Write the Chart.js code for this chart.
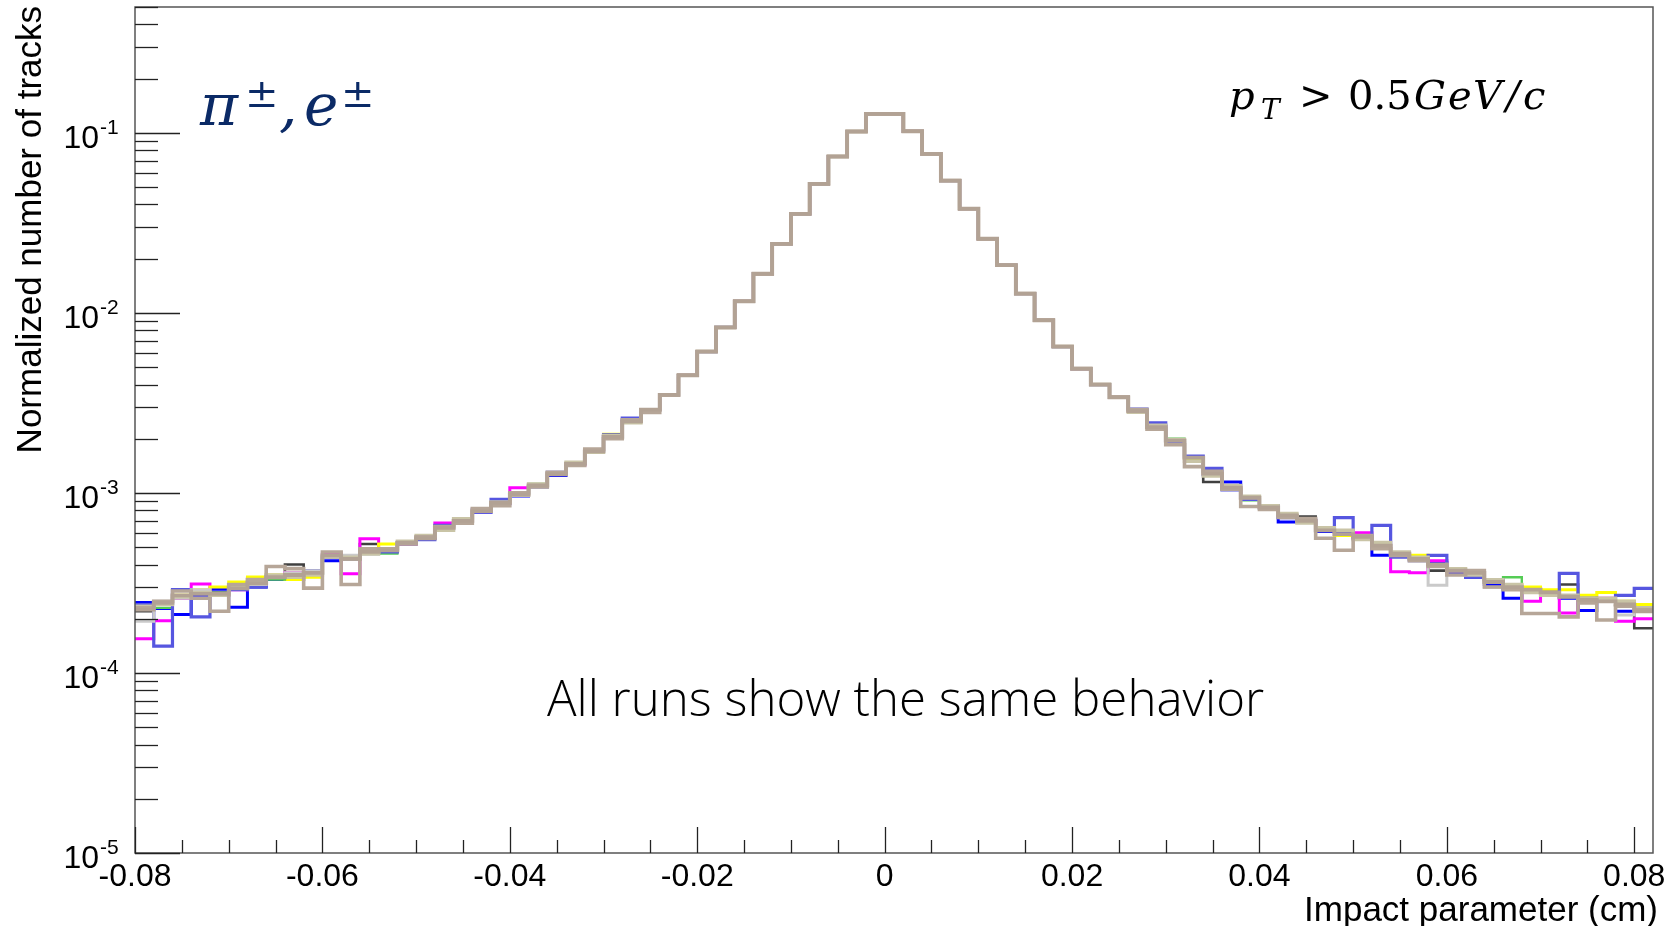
<!DOCTYPE html>
<html>
<head>
<meta charset="utf-8">
<title>Impact parameter - all runs</title>
<script src="https://cdn.jsdelivr.net/npm/chart.js@4.4.0/dist/chart.umd.min.js"></script>
<style>
  html, body { margin: 0; padding: 0; background: #fff; }
  #wrap { width: 1680px; height: 926px; }
</style>
</head>
<body>
<div id="wrap"><canvas id="chart" width="1680" height="926"></canvas></div>
<script>
// binning of the histograms (81 bins of 0.002 cm starting at -0.08)
const binLow = -0.08;
const binWidth = 0.002;
const nBins = 81;
const edges = Array.from({ length: nBins + 1 }, (_, i) => +(binLow + i * binWidth).toFixed(3));

// axis ticks / labels
const xTickValues = [-0.08, -0.06, -0.04, -0.02, 0, 0.02, 0.04, 0.06, 0.08];
const xTickLabels = ['-0.08', '-0.06', '-0.04', '-0.02', '0', '0.02', '0.04', '0.06', '0.08'];
const yDecades = [-5, -4, -3, -2, -1];

// central bins (-0.024 .. 0.026), identical for every run
const core = [0.0035, 0.0045, 0.0061, 0.0083, 0.0116, 0.0165, 0.0242, 0.0355, 0.0521, 0.0739,
  0.1017, 0.1274, 0.1274, 0.102, 0.0764, 0.0543, 0.0379, 0.0258, 0.0184, 0.0128,
  0.0091, 0.0065, 0.0049, 0.004, 0.0034];

// tails of each run: left = bins -0.08..-0.024, right = bins 0.026..0.082
const tanL = [0.000225, 0.000245, 0.00027, 0.000275, 0.000275, 0.000295, 0.000315, 0.00034, 0.00035, 0.00036,
  0.00045, 0.00043, 0.00047, 0.00048, 0.00053, 0.00056, 0.00064, 0.0007, 0.00079, 0.00088,
  0.00098, 0.0011, 0.00127, 0.00145, 0.0017, 0.00205, 0.0025, 0.0029];
const tanR = [0.00285, 0.00232, 0.00195, 0.00157, 0.00128, 0.00107, 0.00094, 0.00083, 0.00075, 0.0007,
  0.00062, 0.00059, 0.00057, 0.00051, 0.00046, 0.00043, 0.0004, 0.00037, 0.00036, 0.00032,
  0.0003, 0.00029, 0.00028, 0.000265, 0.000255, 0.00025, 0.00024, 0.00022];

const tan2L = [0.00023, 0.00025, 0.000285, 0.00026, 0.00022, 0.00031, 0.00033, 0.00039, 0.00038, 0.000296,
  0.00047, 0.00031, 0.00049, 0.00049, 0.00052, 0.00057, 0.00065, 0.00068, 0.00082, 0.00085,
  0.001, 0.00108, 0.0013, 0.00142, 0.00175, 0.002, 0.00255, 0.0028];
const tan2R = [0.0029, 0.00226, 0.00185, 0.0014, 0.00132, 0.00105, 0.00084, 0.00081, 0.00073, 0.00072,
  0.00056, 0.00048, 0.00058, 0.00049, 0.00045, 0.00042, 0.00039, 0.00035, 0.00037, 0.0003,
  0.00029, 0.000214, 0.000214, 0.000205, 0.000245, 0.000197, 0.000235, 0.000225];

const khakiL = [0.000235, 0.00024, 0.000265, 0.00028, 0.00027, 0.0003, 0.00032, 0.00035, 0.00034, 0.00035,
  0.00044, 0.00044, 0.00046, 0.00049, 0.00054, 0.00058, 0.00062, 0.00072, 0.0008, 0.00089,
  0.00097, 0.00112, 0.00128, 0.00148, 0.00168, 0.00208, 0.00245, 0.0029];
const khakiR = [0.0028, 0.00238, 0.00198, 0.0015, 0.00124, 0.0011, 0.00096, 0.00085, 0.00077, 0.00068,
  0.00064, 0.00062, 0.00055, 0.00053, 0.00047, 0.00044, 0.0004, 0.00038, 0.00035, 0.00033,
  0.00031, 0.00028, 0.00027, 0.00027, 0.00026, 0.00026, 0.00025, 0.00023];

const slateL = [0.00024, 0.000141, 0.00029, 0.000205, 0.00027, 0.00029, 0.0003, 0.00034, 0.00034, 0.00037,
  0.00044, 0.00043, 0.00048, 0.00047, 0.00053, 0.00055, 0.00066, 0.00071, 0.00081, 0.00092,
  0.001, 0.00108, 0.0013, 0.00146, 0.00172, 0.0021, 0.0026, 0.0029];
const slateR = [0.00292, 0.00245, 0.0019, 0.0016, 0.00137, 0.00104, 0.00092, 0.00085, 0.00073, 0.0007,
  0.00064, 0.00073, 0.00056, 0.00066, 0.00044, 0.00042, 0.00045, 0.00037, 0.00034, 0.00033,
  0.0003, 0.00028, 0.00028, 0.000357, 0.00026, 0.00025, 0.00027, 0.000295];

const blueL = [0.000246, 0.000228, 0.000211, 0.00027, 0.000292, 0.000232, 0.0003, 0.00033, 0.00033, 0.00037,
  0.00042, 0.00044, 0.00046, 0.00049, 0.00052, 0.00056, 0.00063, 0.00069, 0.00078, 0.00087,
  0.00096, 0.0011, 0.00125, 0.00145, 0.00168, 0.00204, 0.0025, 0.0029];
const blueR = [0.00288, 0.00235, 0.00196, 0.00156, 0.00126, 0.00115, 0.00093, 0.00082, 0.00069, 0.00071,
  0.00061, 0.0006, 0.00056, 0.00045, 0.00046, 0.00043, 0.00041, 0.00036, 0.00034, 0.00031,
  0.00026, 0.00029, 0.00028, 0.00026, 0.000222, 0.00025, 0.00022, 0.00023];

const magentaL = [0.000155, 0.000195, 0.00026, 0.000312, 0.00028, 0.00029, 0.00031, 0.00034, 0.00036, 0.00036,
  0.00046, 0.000356, 0.000557, 0.00048, 0.00052, 0.00056, 0.00068, 0.0007, 0.0008, 0.00088,
  0.00107, 0.0011, 0.00128, 0.00143, 0.0017, 0.00205, 0.0025, 0.0029];
const magentaR = [0.00285, 0.00232, 0.00195, 0.00158, 0.00128, 0.00107, 0.00094, 0.00083, 0.00075, 0.0007,
  0.00063, 0.00058, 0.0006, 0.00051, 0.000365, 0.00036, 0.00042, 0.00037, 0.00036, 0.00033,
  0.000305, 0.00025, 0.000285, 0.000215, 0.00025, 0.00026, 0.000194, 0.0002];

const yellowL = [0.00023, 0.00024, 0.00027, 0.00029, 0.0003, 0.00032, 0.000341, 0.00035, 0.00033, 0.00034,
  0.00044, 0.00043, 0.00046, 0.00052, 0.00053, 0.00056, 0.00065, 0.0007, 0.00079, 0.00089,
  0.00098, 0.0011, 0.0013, 0.00146, 0.0017, 0.00212, 0.0025, 0.0029];
const yellowR = [0.00285, 0.0023, 0.00196, 0.00155, 0.00128, 0.00107, 0.00094, 0.00083, 0.00075, 0.0007,
  0.00063, 0.00058, 0.00057, 0.00051, 0.00046, 0.00045, 0.0004, 0.00037, 0.00036, 0.00032,
  0.00031, 0.0003, 0.00029, 0.00029, 0.00027, 0.00028, 0.00025, 0.00024];

const greenL = [0.000225, 0.00023, 0.00027, 0.00028, 0.00028, 0.0003, 0.00032, 0.00033, 0.00035, 0.00036,
  0.00044, 0.00044, 0.00047, 0.00046, 0.00052, 0.00057, 0.00064, 0.00071, 0.0008, 0.00088,
  0.00098, 0.00112, 0.00127, 0.00145, 0.0017, 0.00205, 0.0025, 0.0029];
const greenR = [0.00285, 0.00232, 0.002, 0.00156, 0.00128, 0.00107, 0.00091, 0.00083, 0.00075, 0.0007,
  0.00062, 0.00059, 0.00057, 0.00051, 0.00046, 0.00043, 0.0004, 0.00037, 0.00036, 0.00032,
  0.00034, 0.00029, 0.00028, 0.000265, 0.000255, 0.00025, 0.00024, 0.00023];

const darkL = [0.00022, 0.00024, 0.00026, 0.00028, 0.00028, 0.00029, 0.00031, 0.00034, 0.0004, 0.00037,
  0.00044, 0.00044, 0.00052, 0.00047, 0.00053, 0.00056, 0.00064, 0.00071, 0.00079, 0.00089,
  0.00098, 0.0011, 0.00127, 0.00145, 0.0017, 0.00205, 0.0025, 0.0029];
const darkR = [0.00285, 0.00232, 0.00195, 0.00157, 0.00115, 0.00107, 0.00094, 0.00083, 0.00075, 0.00074,
  0.00062, 0.00059, 0.00057, 0.00051, 0.00046, 0.00043, 0.00037, 0.00037, 0.00036, 0.0003,
  0.0003, 0.00029, 0.00028, 0.00031, 0.00027, 0.00025, 0.00024, 0.000177];

const greyL = [0.000194, 0.00025, 0.00026, 0.00029, 0.00027, 0.0003, 0.00031, 0.00034, 0.00036, 0.00037,
  0.00044, 0.00045, 0.00047, 0.00049, 0.00053, 0.00057, 0.00064, 0.0007, 0.0008, 0.00088,
  0.00098, 0.0011, 0.00127, 0.00145, 0.0017, 0.00205, 0.0025, 0.0029];
const greyR = [0.00285, 0.00232, 0.00195, 0.00157, 0.00128, 0.00107, 0.00094, 0.00083, 0.00075, 0.0007,
  0.00062, 0.00059, 0.00057, 0.00051, 0.00046, 0.00043, 0.000307, 0.00037, 0.00036, 0.00032,
  0.0003, 0.00029, 0.00028, 0.000265, 0.000255, 0.00025, 0.00021, 0.00023];

// runs, first one is drawn on top (like the last one drawn in ROOT)
const runs = [
  { left: tanL, right: tanR, color: '#b2a294', width: 3.8 },
  { left: tan2L, right: tan2R, color: '#b6a698', width: 3.6 },
  { left: khakiL, right: khakiR, color: '#c9c4a6', width: 3.4 },
  { left: greyL, right: greyR, color: '#cacaca', width: 3 },
  { left: slateL, right: slateR, color: '#5656e0', width: 3.2 },
  { left: greenL, right: greenR, color: '#55cc55', width: 2.4 },
  { left: yellowL, right: yellowR, color: '#ffff00', width: 3 },
  { left: magentaL, right: magentaR, color: '#ff00ff', width: 3 },
  { left: blueL, right: blueR, color: '#0000ff', width: 3 },
  { left: darkL, right: darkR, color: '#404040', width: 2.6 }
];

function histPoints(vals) {
  // one point per bin edge, last edge repeats the last bin content
  return edges.map((e, i) => ({ x: e, y: vals[Math.min(i, vals.length - 1)] }));
}

const datasets = runs.map((r, i) => ({
  data: histPoints([...r.left, ...core, ...r.right]),
  stepped: true,
  borderColor: r.color,
  borderWidth: r.width,
  borderJoinStyle: 'miter',
  borderCapStyle: 'butt',
  pointRadius: 0,
  fill: false,
  order: i
}));

// ROOT style frame, inward ticks and labels
const rootAxes = {
  id: 'rootAxes',
  beforeDraw(chart) {
    const ctx = chart.ctx;
    ctx.save();
    ctx.fillStyle = '#fff';
    ctx.fillRect(0, 0, chart.width, chart.height);
    ctx.restore();
  },
  afterDraw(chart) {
    const { ctx, chartArea: a, scales: { x, y } } = chart;
    ctx.save();

    // frame
    ctx.strokeStyle = '#555';
    ctx.lineWidth = 1.5;
    ctx.strokeRect(a.left, a.top, a.right - a.left, a.bottom - a.top);

    // x ticks every 0.005, major every 0.02
    ctx.strokeStyle = '#222';
    ctx.lineWidth = 1.3;
    for (let i = 0; i <= 32; i++) {
      const v = -0.08 + i * 0.005;
      const px = Math.round(x.getPixelForValue(v)) + 0.5;
      const len = i % 4 === 0 ? 26 : 13;
      ctx.beginPath();
      ctx.moveTo(px, a.bottom);
      ctx.lineTo(px, a.bottom - len);
      ctx.stroke();
    }
    // y ticks on log axis
    for (let e = -5; e <= -1; e++) {
      for (let m = 1; m <= 9; m++) {
        const v = m * Math.pow(10, e);
        if (v > y.max) break;
        const py = Math.round(y.getPixelForValue(v)) + 0.5;
        const len = m === 1 ? 45 : 23;
        ctx.beginPath();
        ctx.moveTo(a.left, py);
        ctx.lineTo(a.left + len, py);
        ctx.stroke();
      }
    }

    // x tick labels
    ctx.fillStyle = '#000';
    ctx.textBaseline = 'alphabetic';
    ctx.textAlign = 'center';
    ctx.font = '32px "Liberation Sans", Arial, sans-serif';
    xTickValues.forEach((v, i) => {
      ctx.fillText(xTickLabels[i], x.getPixelForValue(v), 886);
    });

    // y tick labels 10^n
    yDecades.forEach(e => {
      const py = y.getPixelForValue(Math.pow(10, e));
      ctx.font = '32px "Liberation Sans", Arial, sans-serif';
      ctx.textAlign = 'right';
      ctx.fillText('10', 99, py + 15);
      ctx.font = '21px "Liberation Sans", Arial, sans-serif';
      ctx.textAlign = 'left';
      ctx.fillText(String(e), 100, py + 1);
    });

    // axis titles
    ctx.font = '35px "Liberation Sans", Arial, sans-serif';
    ctx.textAlign = 'right';
    ctx.fillText('Impact parameter (cm)', 1658, 921);

    ctx.save();
    ctx.translate(41, 6);
    ctx.rotate(-Math.PI / 2);
    ctx.textAlign = 'right';
    ctx.font = '35px "Liberation Sans", Arial, sans-serif';
    ctx.fillText('Normalized number of tracks', 0, 0);
    ctx.restore();

    // particle label
    ctx.textAlign = 'left';
    ctx.fillStyle = '#0b2a66';
    ctx.font = 'italic 58px "DejaVu Serif", serif';
    ctx.fillText('\u03c0', 200, 125);
    ctx.fillText(',', 279, 125);
    ctx.fillText('e', 304, 125);
    ctx.font = '40px "DejaVu Serif", serif';
    ctx.fillText('\u00b1', 245, 107);
    ctx.fillText('\u00b1', 341, 107);

    // pT cut
    ctx.fillStyle = '#000';
    ctx.font = 'italic 40px "DejaVu Serif", serif';
    ctx.fillText('p', 1229, 109);
    ctx.font = 'italic 28px "DejaVu Serif", serif';
    ctx.fillText('T', 1261, 119);
    ctx.font = '40px "DejaVu Serif", serif';
    ctx.fillText('>', 1299, 109);
    ctx.fillText('0.5', 1348, 109);
    ctx.font = 'italic 40px "DejaVu Serif", serif';
    ctx.fillText('G', 1414, 109);
    ctx.fillText('e', 1448, 109);
    ctx.fillText('V', 1473, 109);
    ctx.fillText('/', 1506, 109);
    ctx.fillText('c', 1523, 109);

    // comment
    const msg = 'All runs show the same behavior';
    ctx.font = '300 100px "Open Sans", "Noto Sans", sans-serif';
    const size = 100 * 717 / ctx.measureText(msg).width;
    ctx.font = '300 ' + size.toFixed(1) + 'px "Open Sans", "Noto Sans", sans-serif';
    ctx.fillText(msg, 547, 716);

    ctx.restore();
  }
};

new Chart(document.getElementById('chart'), {
  type: 'line',
  data: { datasets },
  options: {
    responsive: false,
    animation: false,
    devicePixelRatio: 1,
    layout: { padding: { left: 135, right: 27, top: 7, bottom: 73 } },
    plugins: { legend: { display: false }, tooltip: { enabled: false } },
    scales: {
      x: { type: 'linear', min: -0.08, max: 0.082, display: false },
      y: { type: 'logarithmic', min: 1e-5, max: 0.5, display: false }
    }
  },
  plugins: [rootAxes]
});
</script>
</body>
</html>
